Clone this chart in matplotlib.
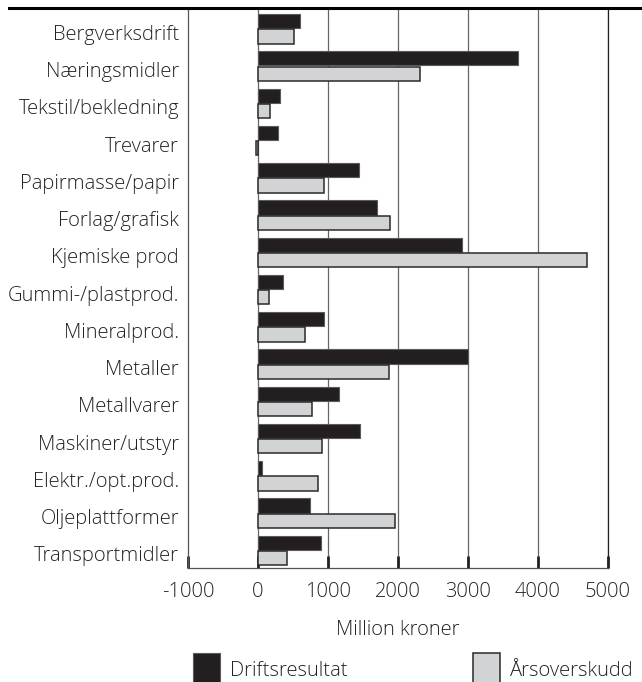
import matplotlib
matplotlib.use('Agg')
import matplotlib.pyplot as plt
from matplotlib.lines import Line2D
import numpy as np

plt.rcParams['font.family'] = ['Open Sans', 'DejaVu Sans']
plt.rcParams['font.weight'] = 'light'
plt.rcParams['axes.labelweight'] = 'light'

# Industry categories, top to bottom
categories = ['Bergverksdrift', 'Næringsmidler', 'Tekstil/bekledning', 'Trevarer',
              'Papirmasse/papir', 'Forlag/grafisk', 'Kjemiske prod', 'Gummi-/plastprod.',
              'Mineralprod.', 'Metaller', 'Metallvarer', 'Maskiner/utstyr',
              'Elektr./opt.prod.', 'Oljeplattformer', 'Transportmidler']

# Million kroner
driftsresultat = [595, 3710, 320, 280, 1440, 1705, 2910, 350,
                  940, 3000, 1160, 1450, 60, 740, 900]
arsoverskudd = [520, 2315, 175, -30, 935, 1880, 4700, 160,
                675, 1875, 765, 920, 860, 1955, 420]

xticks = [-1000, 0, 1000, 2000, 3000, 4000, 5000]

fig = plt.figure(figsize=(6.42, 6.82), dpi=100)
ax = fig.add_axes([0.293, 0.167, 0.654, 0.82])

y = np.arange(len(categories))
h = 0.38

ax.barh(y, driftsresultat, height=h, color='#231f20', edgecolor='#5a5a5a',
        linewidth=0.8, zorder=3, label='Driftsresultat')
ax.barh(y + 0.41, arsoverskudd, height=h, color='#d2d3d5', edgecolor='#2a2a2a',
        linewidth=1.1, zorder=3, label='Årsoverskudd')

ax.set_xlim(-1000, 5000)
ax.set_ylim(14.68, -0.33)
ax.set_xticks(xticks)
ax.set_xticklabels([str(v) for v in xticks])
ax.set_yticks(y + 0.3)
ax.set_yticklabels(categories)

for v in xticks[1:]:
    ax.axvline(v, color='#666666', linewidth=0.9, zorder=1)

ax.spines['top'].set_visible(False)
ax.spines['left'].set_color('#555555')
ax.spines['left'].set_linewidth(0.9)
ax.spines['bottom'].set_color('#555555')
ax.spines['bottom'].set_linewidth(0.9)
ax.spines['right'].set_color('#222222')
ax.spines['right'].set_linewidth(0.9)

fs = 14.5
ax.tick_params(axis='x', direction='in', length=9, width=2, color='#222222',
               pad=10, labelsize=fs, labelcolor='#222222')
ax.tick_params(axis='y', length=0, pad=6.5, labelsize=fs, labelcolor='#222222')

ax.set_xlabel('Million kroner', fontsize=fs, color='#222222', labelpad=13)

# thick rule across the top
fig.add_artist(Line2D([0.014, 1.0], [0.988, 0.988], color='black', linewidth=2.2))

fig.legend(loc='lower left', bbox_to_anchor=(0.3006, -0.006), ncol=2, frameon=False,
           fontsize=fs, handlelength=1.34, handleheight=2.15, handletextpad=0.5,
           columnspacing=6.2, borderpad=0, borderaxespad=0, labelcolor='#222222')

fig.savefig('out.png', dpi=100)
